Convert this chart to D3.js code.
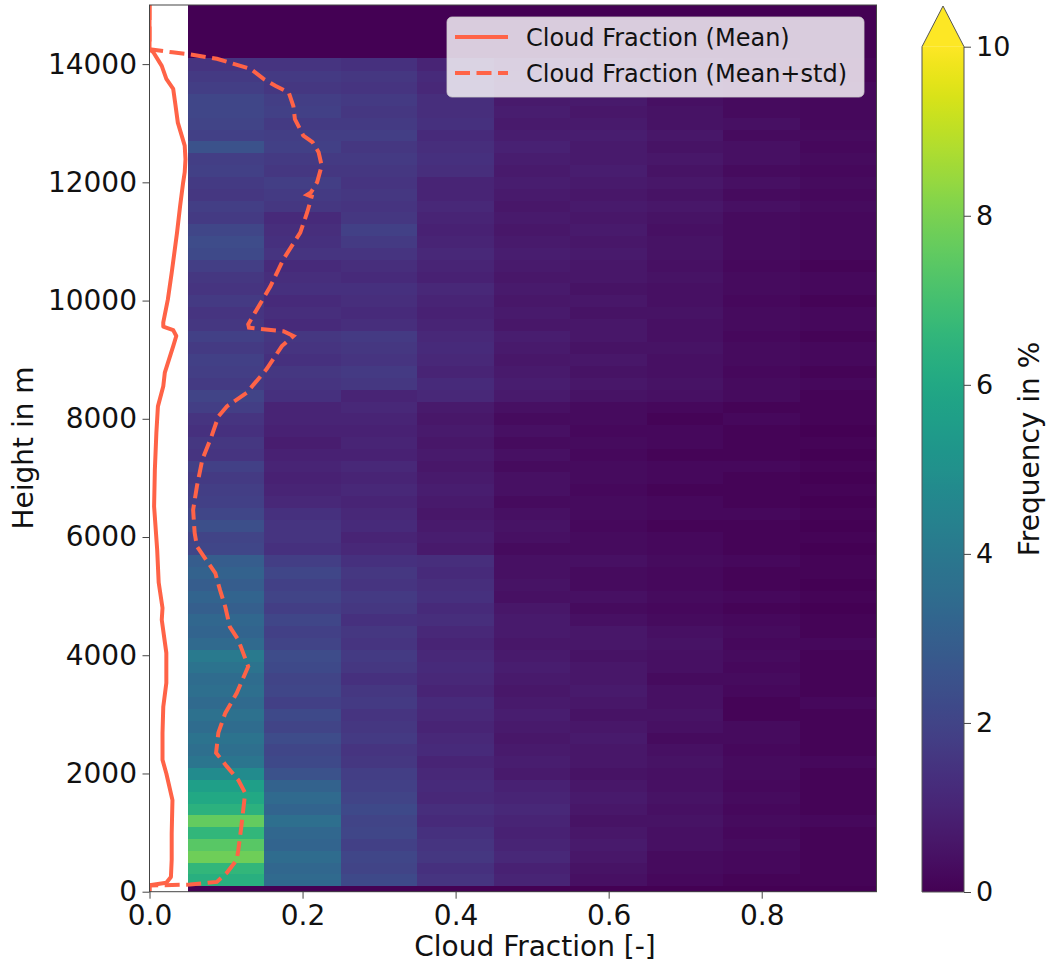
<!DOCTYPE html>
<html>
<head>
<meta charset="utf-8">
<script src="https://cdnjs.cloudflare.com/ajax/libs/d3/7.8.5/d3.min.js"></script>
<style>
  body { margin: 0; background: #fff; }
  text { font-family: "DejaVu Sans", sans-serif; fill: #111; }
</style>
</head>
<body>
<div id="chart"></div>
<script>
// cloud fraction bin centres (bins are 0.1 wide)
const cfBins = [0.1, 0.2, 0.3, 0.4, 0.5, 0.6, 0.7, 0.8, 0.9];

// height bins: 200 m layers from 100 m to 14100 m (bottom -> top)
const heightEdges = d3.range(100, 14101, 200);

// frequency in % for each cloud fraction bin, one value per height layer
const freq01 = [6.3, 6.6, 7.8, 7.4, 6.6, 7.6, 6.4, 6.0, 5.6, 4.8,
                3.9, 3.6, 3.8, 3.5, 3.7, 3.4, 3.6, 3.5, 3.8, 4.1,
                3.4, 3.2, 3.3, 3.0, 3.2, 2.9, 3.1, 2.9, 2.1, 2.0,
                2.4, 2.1, 1.9, 1.8, 1.7, 1.9, 1.5, 1.6, 1.4, 1.5,
                1.8, 2.0, 1.7, 1.8, 1.9, 1.7, 1.9, 1.6, 1.5, 1.7,
                1.5, 1.6, 1.8, 2.2, 2.3, 2.1, 1.7, 1.8, 1.6, 1.7,
                1.9, 1.8, 2.5, 1.9, 2.0, 2.1, 2.1, 1.8, 1.7, 1.5];
const freq02 = [3.4, 3.3, 3.5, 3.2, 3.3, 3.6, 3.2, 3.4, 3.1, 2.5,
                2.2, 2.1, 2.3, 2.0, 2.2, 1.9, 2.1, 2.0, 2.2, 2.3,
                2.0, 1.9, 2.1, 1.8, 2.0, 1.9, 2.1, 1.8, 1.4, 1.5,
                1.5, 1.4, 1.1, 1.0, 0.9, 1.0, 0.9, 0.8, 0.9, 1.0,
                1.0, 1.4, 1.5, 1.6, 1.4, 1.5, 1.6, 1.2, 1.3, 1.2,
                1.4, 1.3, 1.2, 1.5, 1.4, 1.3, 1.2, 1.6, 1.7, 1.8,
                1.6, 1.7, 1.9, 1.8, 1.7, 1.9, 1.8, 1.6, 1.7, 1.5];
const freq03 = [2.2, 2.0, 2.1, 1.9, 2.1, 2.0, 2.2, 2.0, 1.9, 1.8,
                1.6, 1.5, 1.7, 1.6, 1.5, 1.7, 1.6, 1.4, 1.6, 1.7,
                1.5, 1.6, 1.4, 1.6, 1.7, 1.5, 1.6, 1.4, 1.1, 1.0,
                1.2, 1.1, 1.0, 1.1, 1.0, 1.1, 0.9, 1.0, 0.9, 1.0,
                1.1, 1.0, 1.6, 1.7, 1.5, 1.6, 1.7, 1.3, 1.2, 1.3,
                1.4, 1.2, 1.3, 1.5, 1.7, 1.9, 1.6, 1.5, 1.6, 1.5,
                1.6, 1.7, 1.6, 1.8, 1.7, 1.6, 1.7, 1.5, 1.6, 1.4];
const freq04 = [1.5, 1.4, 1.6, 1.5, 1.4, 1.2, 1.3, 1.1, 1.2, 1.1,
                1.0, 1.2, 1.1, 1.0, 1.1, 1.2, 1.0, 1.1, 1.2, 1.1,
                1.0, 1.1, 1.3, 1.2, 1.4, 1.3, 1.2, 1.3, 0.7, 0.8,
                0.7, 0.6, 0.7, 0.8, 0.7, 0.6, 0.7, 0.6, 0.7, 0.6,
                0.7, 1.1, 1.2, 1.0, 1.1, 1.2, 1.1, 1.0, 0.9, 1.0,
                1.1, 0.9, 1.0, 1.1, 1.0, 0.9, 1.0, 1.1, 1.0, 1.0,
                1.3, 1.4, 1.3, 1.2, 1.4, 1.3, 1.3, 1.1, 1.2, 1.0];
const freq05 = [1.0, 0.9, 1.1, 1.0, 0.9, 1.0, 1.1, 1.0, 0.9, 0.7,
                0.8, 0.7, 0.6, 0.7, 0.8, 0.7, 0.6, 0.7, 0.8, 0.7,
                0.6, 0.7, 0.7, 0.6, 0.4, 0.5, 0.4, 0.4, 0.3, 0.4,
                0.5, 0.4, 0.3, 0.4, 0.4, 0.3, 0.4, 0.3, 0.4, 0.3,
                0.4, 0.7, 0.8, 0.7, 0.6, 0.7, 0.8, 0.6, 0.7, 0.6,
                0.7, 0.6, 0.7, 0.8, 0.7, 0.6, 0.7, 0.6, 0.7, 0.8,
                0.7, 0.8, 0.9, 0.8, 0.7, 0.8, 0.7, 0.8, 0.7, 0.6];
const freq06 = [0.4, 0.5, 0.6, 0.7, 0.6, 0.5, 0.6, 0.7, 0.6, 0.5,
                0.6, 0.6, 0.7, 0.6, 0.5, 0.6, 0.7, 0.6, 0.6, 0.5,
                0.6, 0.6, 0.4, 0.3, 0.4, 0.3, 0.3, 0.4, 0.3, 0.3,
                0.2, 0.3, 0.3, 0.2, 0.3, 0.3, 0.2, 0.3, 0.2, 0.3,
                0.3, 0.5, 0.6, 0.5, 0.6, 0.5, 0.6, 0.6, 0.5, 0.6,
                0.5, 0.6, 0.6, 0.7, 0.6, 0.7, 0.6, 0.7, 0.6, 0.7,
                0.8, 0.7, 0.7, 0.8, 0.7, 0.6, 0.7, 0.6, 0.6, 0.5];
const freq07 = [0.2, 0.3, 0.3, 0.4, 0.4, 0.5, 0.4, 0.5, 0.4, 0.4,
                0.5, 0.4, 0.3, 0.4, 0.5, 0.4, 0.4, 0.3, 0.4, 0.4,
                0.5, 0.4, 0.3, 0.2, 0.3, 0.2, 0.2, 0.3, 0.2, 0.2,
                0.1, 0.2, 0.2, 0.1, 0.2, 0.2, 0.1, 0.2, 0.2, 0.1,
                0.2, 0.4, 0.5, 0.4, 0.4, 0.5, 0.4, 0.4, 0.5, 0.4,
                0.4, 0.5, 0.4, 0.5, 0.5, 0.4, 0.5, 0.6, 0.5, 0.6,
                0.5, 0.6, 0.5, 0.6, 0.5, 0.5, 0.4, 0.5, 0.4, 0.3];
const freq08 = [0.1, 0.2, 0.2, 0.3, 0.2, 0.3, 0.2, 0.3, 0.2, 0.3,
                0.3, 0.2, 0.3, 0.3, 0.1, 0.1, 0.2, 0.3, 0.2, 0.3,
                0.2, 0.3, 0.2, 0.1, 0.2, 0.1, 0.1, 0.2, 0.1, 0.1,
                0.1, 0.2, 0.1, 0.1, 0.1, 0.2, 0.1, 0.1, 0.1, 0.2,
                0.1, 0.3, 0.3, 0.2, 0.3, 0.3, 0.2, 0.3, 0.3, 0.2,
                0.3, 0.3, 0.2, 0.3, 0.3, 0.3, 0.3, 0.4, 0.3, 0.4,
                0.3, 0.4, 0.4, 0.3, 0.4, 0.3, 0.3, 0.3, 0.2, 0.2];
const freq09 = [0.1, 0.1, 0.1, 0.1, 0.1, 0.2, 0.1, 0.1, 0.1, 0.1,
                0.2, 0.1, 0.1, 0.1, 0.1, 0.2, 0.1, 0.1, 0.1, 0.1,
                0.2, 0.1, 0.1, 0.0, 0.1, 0.0, 0.1, 0.1, 0.0, 0.1,
                0.0, 0.1, 0.0, 0.1, 0.0, 0.1, 0.0, 0.1, 0.0, 0.1,
                0.1, 0.1, 0.2, 0.1, 0.2, 0.2, 0.1, 0.2, 0.2, 0.1,
                0.2, 0.2, 0.1, 0.2, 0.2, 0.2, 0.2, 0.3, 0.2, 0.3,
                0.2, 0.3, 0.2, 0.3, 0.2, 0.2, 0.2, 0.2, 0.1, 0.1];

// mean cloud fraction profile (height in m, cloud fraction)
const meanHeight = [15000, 14250, 14200, 13970, 13750, 13580, 13300, 13010, 12620, 12390, 12170, 12000,
                    11600, 11150, 10470, 10020, 9630, 9560, 9500, 9400, 9230, 8780, 8550, 8210,
                    7770, 7140, 6520, 5790, 5230, 4800, 4600, 4040, 3530, 3130, 2690, 2230,
                    2000, 1550, 990, 540, 250, 150, 110, 0];
const meanCF = [0.0, 0.0, 0.005, 0.016, 0.022, 0.031, 0.034, 0.037, 0.046, 0.047, 0.046, 0.044,
                0.040, 0.036, 0.029, 0.024, 0.018, 0.018, 0.031, 0.035, 0.031, 0.020, 0.018, 0.011,
                0.009, 0.007, 0.006, 0.010, 0.012, 0.017, 0.016, 0.022, 0.022, 0.018, 0.017, 0.017,
                0.022, 0.030, 0.029, 0.029, 0.028, 0.022, 0.0, 0.0];

// mean + std cloud fraction profile
const stdHeight = [15000, 14250, 14200, 14170, 14090, 13920, 13750, 13630, 13520, 13290, 13070, 12790,
                   12680, 12510, 12280, 12000, 11830, 11790, 11760, 11490, 11150, 10700, 10240, 9800,
                   9600, 9540, 9480, 9400, 9230, 8840, 8440, 8210, 8040, 7700, 7310, 6860,
                   6460, 6070, 5840, 5390, 5110, 4820, 4480, 4260, 3810, 3360, 3020, 2690,
                   2350, 2120, 1890, 1670, 1100, 700, 540, 320, 165, 120, 105, 0];
const stdCF = [0.0, 0.0, 0.030, 0.050, 0.088, 0.132, 0.149, 0.165, 0.182, 0.188, 0.190, 0.201,
               0.213, 0.221, 0.225, 0.219, 0.211, 0.206, 0.212, 0.206, 0.197, 0.175, 0.158, 0.138,
               0.129, 0.130, 0.175, 0.188, 0.173, 0.153, 0.127, 0.101, 0.090, 0.081, 0.069, 0.062,
               0.057, 0.059, 0.062, 0.086, 0.092, 0.099, 0.105, 0.116, 0.129, 0.114, 0.099, 0.090,
               0.087, 0.101, 0.116, 0.125, 0.120, 0.116, 0.114, 0.101, 0.088, 0.053, 0.0, 0.0];

const xTicks = [0.0, 0.2, 0.4, 0.6, 0.8];
const yTicks = [0, 2000, 4000, 6000, 8000, 10000, 12000, 14000];
const cbarTicks = [0, 2, 4, 6, 8, 10];

const width = 1049, height = 965;
const plot = {left: 149.5, right: 876.5, top: 5, bottom: 891.7};

const x = d3.scaleLinear().domain([0, 0.95]).range([plot.left, plot.right]);
const y = d3.scaleLinear().domain([0, 15000]).range([plot.bottom, plot.top]);
const colour = d3.scaleSequential(d3.interpolateViridis).domain([0, 10]).clamp(true);

const svg = d3.select("#chart").append("svg")
    .attr("width", width)
    .attr("height", height);

svg.append("defs").append("clipPath").attr("id", "plotclip")
  .append("rect")
    .attr("x", plot.left).attr("y", plot.top)
    .attr("width", plot.right - plot.left).attr("height", plot.bottom - plot.top);

// heatmap: empty (zero) background over the binned range, then the cells
const heat = svg.append("g").attr("shape-rendering", "crispEdges");
heat.append("rect")
    .attr("x", x(cfBins[0] - 0.05))
    .attr("y", y(15000))
    .attr("width", x(cfBins[cfBins.length - 1] + 0.05) - x(cfBins[0] - 0.05))
    .attr("height", y(0) - y(15000))
    .attr("fill", colour(0));

const columns = [freq01, freq02, freq03, freq04, freq05, freq06, freq07, freq08, freq09];
const cells = [];
columns.forEach(function(col, i) {
  col.forEach(function(v, j) {
    cells.push({cf: cfBins[i], h0: heightEdges[j], h1: heightEdges[j + 1], v: v});
  });
});

heat.selectAll(".cell")
  .data(cells)
  .enter().append("rect")
    .attr("class", "cell")
    .attr("x", d => x(d.cf - 0.05))
    .attr("y", d => y(d.h1))
    .attr("width", d => x(d.cf + 0.05) - x(d.cf - 0.05) + 0.5)
    .attr("height", d => y(d.h0) - y(d.h1) + 0.5)
    .attr("fill", d => colour(d.v));

// profiles
const lineGen = d3.line().x(d => x(d[0])).y(d => y(d[1]));
const lines = svg.append("g").attr("clip-path", "url(#plotclip)");
lines.append("path")
    .datum(meanCF.map((v, i) => [v, meanHeight[i]]))
    .attr("d", lineGen)
    .attr("fill", "none")
    .attr("stroke", "tomato")
    .attr("stroke-width", 4)
    .attr("stroke-linejoin", "round");
lines.append("path")
    .datum(stdCF.map((v, i) => [v, stdHeight[i]]))
    .attr("d", lineGen)
    .attr("fill", "none")
    .attr("stroke", "tomato")
    .attr("stroke-width", 4)
    .attr("stroke-dasharray", "15,6.5");

// frame
svg.append("rect")
    .attr("x", plot.left).attr("y", plot.top)
    .attr("width", plot.right - plot.left).attr("height", plot.bottom - plot.top)
    .attr("fill", "none").attr("stroke", "#444").attr("stroke-width", 1);

// axes
const xAxis = svg.append("g")
    .attr("transform", "translate(0," + plot.bottom + ")")
    .call(d3.axisBottom(x).tickValues(xTicks).tickFormat(d3.format(".1f")).tickSize(7).tickPadding(6.4));
const yAxis = svg.append("g")
    .attr("transform", "translate(" + plot.left + ",0)")
    .call(d3.axisLeft(y).tickValues(yTicks).tickFormat(d3.format("d")).tickSize(7).tickPadding(5.5));
[xAxis, yAxis].forEach(function(g) {
  g.select(".domain").remove();
  g.selectAll("line").attr("stroke", "#444");
  g.selectAll("text").attr("font-size", 28).attr("font-family", "DejaVu Sans").attr("fill", "#111");
});

svg.append("text")
    .attr("x", 535).attr("y", 956)
    .attr("text-anchor", "middle")
    .attr("font-size", 28)
    .text("Cloud Fraction [-]");
svg.append("text")
    .attr("transform", "translate(33,448) rotate(-90)")
    .attr("text-anchor", "middle")
    .attr("font-size", 28)
    .text("Height in m");

// legend
const legend = svg.append("g");
legend.append("rect")
    .attr("x", 447).attr("y", 17).attr("width", 417).attr("height", 80).attr("rx", 5)
    .attr("fill", "#fff").attr("fill-opacity", 0.8)
    .attr("stroke", "#ccc").attr("stroke-opacity", 0.8);
const legendItems = [
  {label: "Cloud Fraction (Mean)", dash: null},
  {label: "Cloud Fraction (Mean+std)", dash: "15,6.5"}
];
legendItems.forEach(function(item, i) {
  const ly = 37 + i * 36;
  legend.append("line")
      .attr("x1", 455).attr("x2", 508).attr("y1", ly).attr("y2", ly)
      .attr("stroke", "tomato").attr("stroke-width", 4)
      .attr("stroke-dasharray", item.dash);
  legend.append("text")
      .attr("x", 526).attr("y", ly + 9)
      .attr("font-size", 24)
      .text(item.label);
});

// colorbar
const cb = {left: 922, right: 964, top: 46.7, bottom: 892, tip: 6};
const cy = d3.scaleLinear().domain([0, 10]).range([cb.bottom, cb.top]);
const grad = svg.select("defs").append("linearGradient")
    .attr("id", "viridis").attr("x1", 0).attr("y1", 1).attr("x2", 0).attr("y2", 0);
grad.selectAll("stop")
  .data(d3.range(0, 1.0001, 0.02))
  .enter().append("stop")
    .attr("offset", d => d)
    .attr("stop-color", d => colour(d * 10));
svg.append("rect")
    .attr("x", cb.left).attr("y", cy(10))
    .attr("width", cb.right - cb.left).attr("height", cy(0) - cy(10))
    .attr("fill", "url(#viridis)");
svg.append("path")
    .attr("d", "M" + cb.left + "," + cy(10) + "L" + (cb.left + cb.right) / 2 + "," + cb.tip + "L" + cb.right + "," + cy(10) + "Z")
    .attr("fill", colour(10));
svg.append("path")
    .attr("d", "M" + cb.left + "," + cy(0) + "L" + cb.left + "," + cy(10) + "L" + (cb.left + cb.right) / 2 + "," + cb.tip +
               "L" + cb.right + "," + cy(10) + "L" + cb.right + "," + cy(0) + "Z")
    .attr("fill", "none").attr("stroke", "#555").attr("stroke-width", 1);
const cAxis = svg.append("g")
    .attr("transform", "translate(" + cb.right + ",0)")
    .call(d3.axisRight(cy).tickValues(cbarTicks).tickSize(7).tickPadding(5));
cAxis.select(".domain").remove();
cAxis.selectAll("line").attr("stroke", "#444");
cAxis.selectAll("text").attr("font-size", 27).attr("font-family", "DejaVu Sans").attr("fill", "#111");

svg.append("text")
    .attr("transform", "translate(1039,449) rotate(-90)")
    .attr("text-anchor", "middle")
    .attr("font-size", 28)
    .text("Frequency in %");
</script>
</body>
</html>
